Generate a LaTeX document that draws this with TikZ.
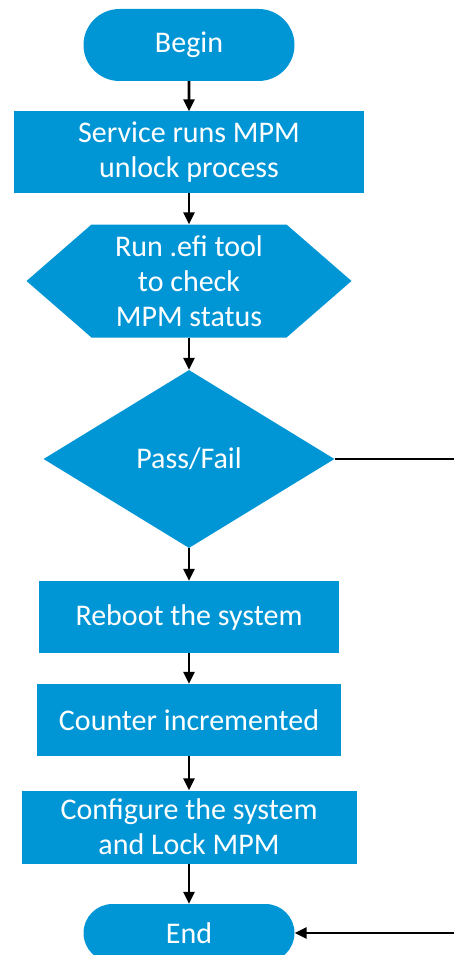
\documentclass[tikz,border=0pt]{standalone}
\usepackage{fontspec}
\setmainfont{Carlito}
\usetikzlibrary{shapes.geometric,shapes.misc,arrows.meta}
\definecolor{hpblue}{RGB}{0,150,214}
\begin{document}
\begin{tikzpicture}[x=1pt,y=-1pt,
  base/.style={text=white,font=\fontsize{30}{35}\selectfont,align=center,inner sep=0pt},
  box/.style={base,rectangle,fill=hpblue},
  pill/.style={base,rounded rectangle,fill=hpblue},
  flow/.style={line width=2.8pt,-{Triangle[length=12pt,width=11pt]}}]
\useasboundingbox (0,0) rectangle (454,955);
\clip (0,0) rectangle (454,955);

% process steps
\node[pill,minimum width=211pt,minimum height=72pt] (begin) at (189,45) {Begin};
\node[box,minimum width=350pt,minimum height=81pt] (unlock) at (189,152) {Service runs MPM\\unlock process};
\node[base,minimum width=325pt,minimum height=113pt,
  path picture={\fill[hpblue] (path picture bounding box.west)
    -- ([xshift=65pt]path picture bounding box.north west)
    -- ([xshift=-65pt]path picture bounding box.north east)
    -- (path picture bounding box.east)
    -- ([xshift=-65pt]path picture bounding box.south east)
    -- ([xshift=65pt]path picture bounding box.south west) -- cycle;}]
  (check) at (189,281) {Run .efi tool\\to check\\MPM status};
\node[base,diamond,fill=hpblue,minimum width=291pt,minimum height=178pt] (pf) at (189,459) {Pass/Fail};
\node[box,minimum width=300pt,minimum height=72pt] (reboot) at (189,617) {Reboot the system};
\node[box,minimum width=304pt,minimum height=72pt] (counter) at (189,720) {Counter incremented};
\node[box,minimum width=335pt,minimum height=73pt] (config) at (189,827) {Configure the system\\and Lock MPM};
\node[pill,minimum width=211pt,minimum height=58pt] (end) at (189,933) {End};

% connectors
\draw[flow] (begin) -- (unlock);
\draw[flow] (unlock) -- (check);
\draw[flow] (check) -- (pf);
\draw[flow] (pf) -- (reboot);
\draw[flow] (reboot) -- (counter);
\draw[flow] (counter) -- (config);
\draw[flow] (config) -- (end);
\coordinate (rt) at (470,459);
\draw[flow] (pf.east) -- (rt) |- (end.east);
\end{tikzpicture}
\end{document}
